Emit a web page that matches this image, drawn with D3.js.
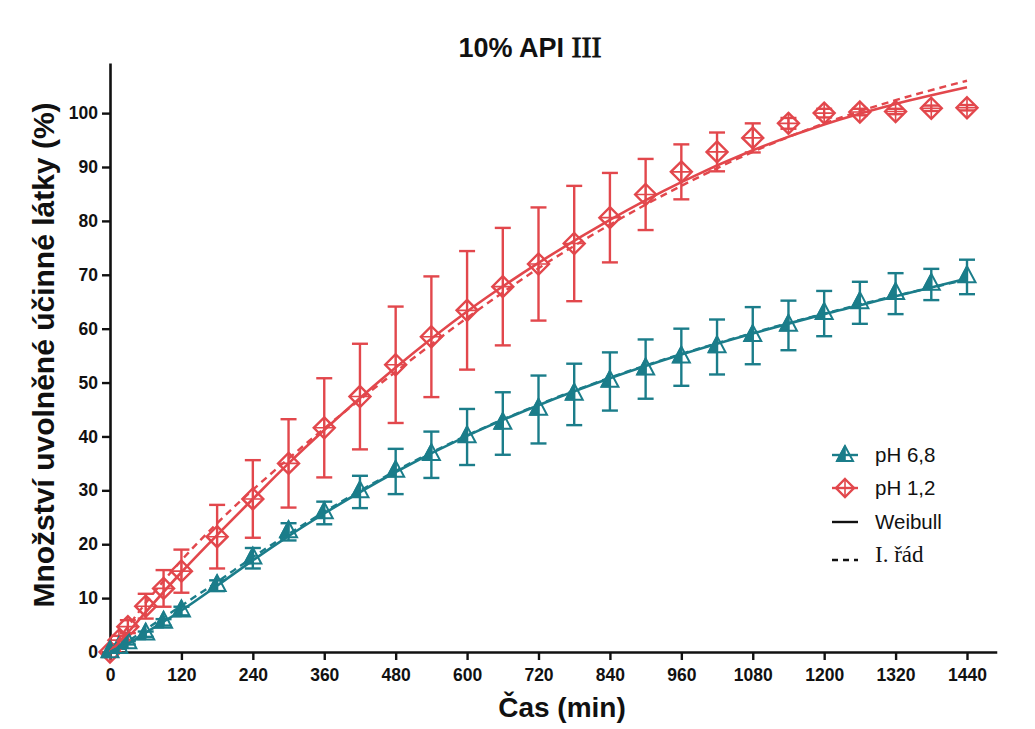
<!DOCTYPE html>
<html>
<head>
<meta charset="utf-8">
<script src="https://cdn.jsdelivr.net/npm/d3@7"></script>
<style>
  html, body { margin: 0; padding: 0; background: #fff; }
  svg { display: block; font-family: "Liberation Sans", Arial, sans-serif; }
</style>
</head>
<body>
<svg id="chart" width="1035" height="729"></svg>
<script>
// Sampling times (min)
const times = [0, 15, 30, 60, 90, 120, 180, 240, 300, 360, 420, 480, 540, 600, 660, 720, 780, 840, 900, 960, 1020, 1080, 1140, 1200, 1260, 1320, 1380, 1440];

// pH 6,8 — mean release (%) and SD
const ph68Mean = [0, 0.8, 1.7, 3.3, 5.5, 7.6, 12.3, 17.4, 22.3, 25.8, 29.7, 33.5, 36.6, 39.9, 42.4, 45.0, 47.8, 50.2, 52.5, 54.7, 56.6, 58.7, 60.6, 62.8, 64.8, 66.5, 68.2, 69.6];
const ph68Sd   = [0, 0.2, 0.3, 0.5, 0.6, 0.8, 1.0, 1.9, 1.6, 2.1, 3.0, 4.2, 4.3, 5.2, 5.8, 6.3, 5.7, 5.4, 5.5, 5.3, 5.1, 5.3, 4.6, 4.2, 3.9, 3.8, 2.9, 3.2];

// pH 1,2 — mean release (%) and SD
const ph12Mean = [0, 2.2, 4.7, 8.5, 11.8, 15.0, 21.4, 28.4, 35.0, 41.6, 47.4, 53.3, 58.5, 63.4, 67.8, 72.0, 75.8, 80.6, 84.9, 89.1, 92.8, 95.4, 98.1, 100.0, 100.2, 100.3, 100.9, 101.0];
const ph12Sd   = [0, 0.8, 1.2, 2.3, 3.4, 4.0, 5.9, 7.2, 8.2, 9.2, 9.8, 10.8, 11.2, 11.0, 10.9, 10.5, 10.7, 8.3, 6.6, 5.1, 3.6, 2.7, 1.0, 0.8, 0.6, 0.5, 0.5, 0.5];

// Fitted model curves (Weibull, first order) at selected times
const fitTimes   = [0, 30, 60, 120, 180, 240, 300, 360, 480, 600, 720, 840, 960, 1080, 1200, 1320, 1440];
const ph12Weib   = [0, 3.6, 7.4, 14.8, 21.7, 28.4, 35.0, 41.2, 52.8, 63.2, 72.2, 80.2, 87.2, 93.1, 97.9, 101.7, 104.8];
const ph12First  = [0, 4.7, 9.1, 17.0, 23.9, 30.1, 35.9, 41.5, 52.0, 62.0, 71.2, 79.3, 86.5, 92.8, 98.1, 102.4, 106.0];
const ph68Weib   = [0, 1.5, 3.6, 7.7, 12.3, 17.0, 21.5, 25.7, 33.4, 40.1, 45.8, 50.8, 55.2, 59.1, 62.7, 66.0, 69.3];
const ph68First  = [0, 2.0, 4.2, 8.6, 13.0, 17.6, 21.9, 26.0, 33.6, 40.2, 45.9, 50.9, 55.3, 59.2, 62.8, 66.1, 69.1];

// Axis ticks
const xTicks = [0, 120, 240, 360, 480, 600, 720, 840, 960, 1080, 1200, 1320, 1440];
const yTicks = [0, 10, 20, 30, 40, 50, 60, 70, 80, 90, 100];

const legendLabels = ["pH 6,8", "pH 1,2", "Weibull", "I. řád"];

const TEAL = "#1b7d8a";
const RED = "#e2474c";

const svg = d3.select("#chart");

const x = d3.scaleLinear().domain([0, 1490]).range([110, 110 + 857 * 1490 / 1440]);
const y = d3.scaleLinear().domain([0, 109.3]).range([652, 63]);

// Axes
const xAxis = svg.append("g")
  .attr("transform", `translate(0,${y(0)})`)
  .call(d3.axisBottom(x).tickValues(xTicks).tickFormat(d3.format("d"))
    .tickSize(8).tickPadding(9).tickSizeOuter(0));
const yAxis = svg.append("g")
  .attr("transform", `translate(${x(0)},0)`)
  .call(d3.axisLeft(y).tickValues(yTicks).tickFormat(d3.format("d"))
    .tickSize(8).tickPadding(4).tickSizeOuter(0));

[xAxis, yAxis].forEach(g => {
  g.select(".domain").attr("stroke", "#111").attr("stroke-width", 2.6);
  g.selectAll(".tick line").attr("stroke", "#111").attr("stroke-width", 2.4);
  g.selectAll(".tick text")
    .attr("fill", "#111")
    .style("font-family", "'Liberation Sans', Arial, sans-serif")
    .style("font-size", "17.5px")
    .style("font-weight", "bold");
});

// Title
const title = svg.append("text")
  .attr("x", 530).attr("y", 57)
  .attr("text-anchor", "middle")
  .attr("fill", "#111")
  .style("font-size", "27px").style("font-weight", "bold");
title.append("tspan").text("10% API ");
title.append("tspan").style("font-family", "'Liberation Serif', 'Times New Roman', serif")
  .style("font-size", "30px").style("font-weight", "normal")
  .attr("stroke", "#111").attr("stroke-width", 0.8).text("III");

// Axis titles
svg.append("text")
  .attr("x", 562).attr("y", 717)
  .attr("text-anchor", "middle").attr("fill", "#111")
  .style("font-size", "28px").style("font-weight", "bold")
  .text("Čas (min)");
svg.append("text")
  .attr("transform", `translate(54,${355}) rotate(-90)`)
  .attr("text-anchor", "middle").attr("fill", "#111")
  .style("font-size", "30px").style("font-weight", "bold")
  .text("Množství uvolněné účinné látky (%)");

// Series descriptions
const series = [
  { mean: ph12Mean, sd: ph12Sd, color: RED, cap: 8, weib: ph12Weib, first: ph12First, marker: "diamond" },
  { mean: ph68Mean, sd: ph68Sd, color: TEAL, cap: 8, weib: ph68Weib, first: ph68First, marker: "triangle" }
];

// Error bars
series.forEach(s => {
  const g = svg.append("g").attr("stroke", s.color).attr("stroke-width", 2.4).attr("fill", "none");
  times.forEach((t, i) => {
    if (s.sd[i] <= 0) return;
    const cx = x(t), top = y(s.mean[i] + s.sd[i]), bot = y(s.mean[i] - s.sd[i]);
    g.append("line").attr("x1", cx).attr("x2", cx).attr("y1", top).attr("y2", bot);
    g.append("line").attr("x1", cx - s.cap).attr("x2", cx + s.cap).attr("y1", top).attr("y2", top);
    g.append("line").attr("x1", cx - s.cap).attr("x2", cx + s.cap).attr("y1", bot).attr("y2", bot);
  });
});

// Marker drawing helpers
function drawDiamond(g, cx, cy, color, r) {
  g.append("path")
    .attr("d", `M${cx},${cy - r}L${cx + r},${cy}L${cx},${cy + r}L${cx - r},${cy}Z`)
    .attr("fill", "none").attr("stroke", color).attr("stroke-width", 2.4);
  g.append("path")
    .attr("d", `M${cx - r},${cy}H${cx + r}M${cx},${cy - r}V${cy + r}`)
    .attr("stroke", color).attr("stroke-width", 1.6);
}
function drawTriangle(g, cx, cy, color, w, h) {
  const ax = cx, ay = cy - h * 2 / 3, by = cy + h / 3;
  g.append("path")
    .attr("d", `M${ax},${ay}L${cx - w / 2},${by}L${cx},${by}Z`)
    .attr("fill", color).attr("stroke", color).attr("stroke-width", 1.6).attr("stroke-linejoin", "round");
  g.append("path")
    .attr("d", `M${ax},${ay}L${cx - w / 2},${by}L${cx + w / 2},${by}Z`)
    .attr("fill", "none").attr("stroke", color).attr("stroke-width", 2).attr("stroke-linejoin", "miter");
}

// Markers
series.forEach(s => {
  const g = svg.append("g");
  times.forEach((t, i) => {
    if (s.marker === "diamond") drawDiamond(g, x(t), y(s.mean[i]), s.color, 10.5);
    else drawTriangle(g, x(t), y(s.mean[i]), s.color, 17, 16);
  });
});

// Fitted curves
const line = d3.line().x((d, i) => x(fitTimes[i])).y(d => y(d)).curve(d3.curveMonotoneX);
series.forEach(s => {
  svg.append("path").attr("d", line(s.first))
    .attr("fill", "none").attr("stroke", s.color).attr("stroke-width", 2.4)
    .attr("stroke-dasharray", "7,5");
  svg.append("path").attr("d", line(s.weib))
    .attr("fill", "none").attr("stroke", s.color).attr("stroke-width", 2.6);
});

// Legend
const lg = svg.append("g");
const lx = 832, lrows = [455, 488, 522, 555];
lg.append("line").attr("x1", lx).attr("x2", lx + 26).attr("y1", lrows[0]).attr("y2", lrows[0])
  .attr("stroke", TEAL).attr("stroke-width", 2.4);
drawTriangle(lg, lx + 13, lrows[0] + 1, TEAL, 16, 15);
lg.append("line").attr("x1", lx).attr("x2", lx + 26).attr("y1", lrows[1]).attr("y2", lrows[1])
  .attr("stroke", RED).attr("stroke-width", 2.4);
drawDiamond(lg, lx + 13, lrows[1], RED, 9);
lg.append("line").attr("x1", lx).attr("x2", lx + 26).attr("y1", lrows[2]).attr("y2", lrows[2])
  .attr("stroke", "#111").attr("stroke-width", 2.4);
lg.append("line").attr("x1", lx).attr("x2", lx + 26).attr("y1", lrows[3] + 5).attr("y2", lrows[3] + 5)
  .attr("stroke", "#111").attr("stroke-width", 2.4).attr("stroke-dasharray", "6,5");

legendLabels.forEach((lab, i) => {
  const t = lg.append("text").attr("x", 875).attr("y", lrows[i] + 7).attr("fill", "#111").text(lab);
  if (i === 3) t.style("font-family", "'Liberation Serif', 'Times New Roman', serif").style("font-size", "23px");
  else t.style("font-size", "20.5px");
});
</script>
</body>
</html>
